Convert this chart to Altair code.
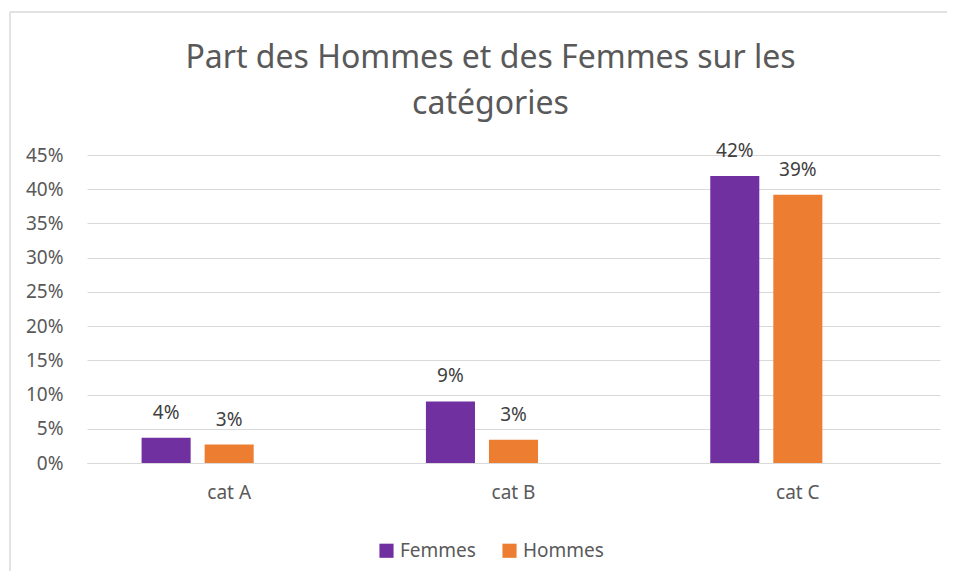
import altair as alt
import pandas as pd

categories = ["cat A", "cat B", "cat C"]
femmes = [0.037, 0.090, 0.4195]
hommes = [0.027, 0.034, 0.392]
series = ["Femmes", "Hommes"]
colors = ["#7030A0", "#ED7D31"]
y_ticks = [0, 0.05, 0.10, 0.15, 0.20, 0.25, 0.30, 0.35, 0.40, 0.45]

rows = []
for c, f, h in zip(categories, femmes, hommes):
    rows.append({"cat": c, "serie": "Femmes", "val": f})
    rows.append({"cat": c, "serie": "Hommes", "val": h})
df = pd.DataFrame(rows)

FONT = "Noto Sans"
GREY = "#595959"

x_enc = alt.X("cat:N", sort=categories, title=None,
              scale=alt.Scale(paddingInner=0.384, paddingOuter=0.192),
              axis=alt.Axis(labelAngle=0, labelFontSize=19, labelColor=GREY, labelFont=FONT,
                            labelPadding=20, ticks=False, domainColor="#D9D9D9", domainWidth=1))
xo_enc = alt.XOffset("serie:N", scale=alt.Scale(domain=series + ["(vide)"], paddingInner=0.222, paddingOuter=0))
y_enc = alt.Y("val:Q", title=None,
              scale=alt.Scale(domain=[0, 0.45], nice=False),
              axis=alt.Axis(values=y_ticks, format=".0%", labelFontSize=19, labelColor=GREY,
                            labelFont=FONT, labelPadding=24, ticks=False, domain=False,
                            labelOverlap=False, gridColor="#D9D9D9", gridWidth=1))

base = alt.Chart(df)

bars = base.mark_bar().encode(
    x=x_enc, xOffset=xo_enc, y=y_enc,
    color=alt.Color("serie:N", scale=alt.Scale(domain=series, range=colors), title=None,
                    legend=alt.Legend(orient="none", legendX=290, legendY=386, direction="horizontal",
                                      symbolType="square", symbolSize=200, symbolStrokeWidth=0,
                                      labelFontSize=19, labelColor=GREY, labelFont=FONT,
                                      columnPadding=24, labelOffset=4)),
)

labels = base.mark_text(fontSize=19, font=FONT, color="#404040", baseline="alphabetic", dy=-19).encode(
    x=x_enc, xOffset=xo_enc, y=y_enc,
    text=alt.Text("val:Q", format=".0%"),
)

frame_src = alt.Chart(alt.Data(values=[{"k": 1}]))
frame_top = frame_src.mark_rule(stroke="#D9D9D9", strokeWidth=1.5).encode(
    x=alt.value(-77), x2=alt.value(900), y=alt.value(-143)
)
frame_left = frame_src.mark_rule(stroke="#D9D9D9", strokeWidth=1.5).encode(
    x=alt.value(-77), y=alt.value(-143), y2=alt.value(520)
)

chart = alt.layer(bars, labels, frame_top, frame_left).properties(
    width=853, height=308,
    autosize=alt.AutoSizeParams(type="none"),
    padding={"left": 79, "top": 147, "right": 7, "bottom": 108},
    title=alt.TitleParams(text=["Part des Hommes et des Femmes sur les", "catégories"],
                          fontSize=32, font=FONT, fontWeight="normal", color=GREY,
                          lineHeight=46, anchor="middle", frame="group", dx=-23, offset=-110),
).configure_view(stroke=None).configure_axis(grid=True).configure_axisX(grid=False)

chart.save("out.html", embed_options={"renderer": "svg", "actions": False})
